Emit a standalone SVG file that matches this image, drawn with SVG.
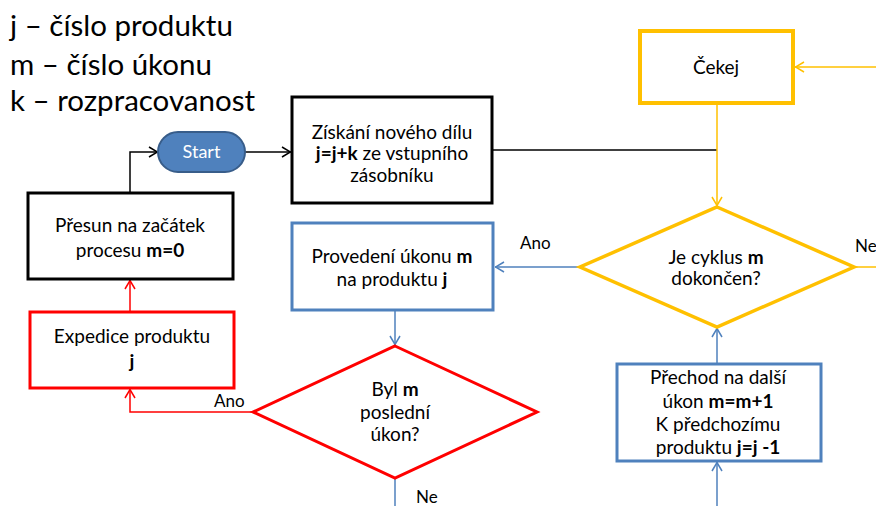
<svg xmlns="http://www.w3.org/2000/svg" width="876" height="506" viewBox="0 0 876 506">
<defs>
<style>
text{font-family:Lato,"Open Sans","Liberation Sans",sans-serif;fill:#000;}
.t{font-size:19px;text-anchor:middle;}
.lbl{font-size:17px;}
.leg{font-size:29.5px;}
.b{font-weight:bold;}
.box{fill:#fff;stroke-width:3;}
.k{stroke:#000;}
.r{stroke:#ff0000;}
.bl{stroke:#4f81bd;}
.y{stroke:#ffc000;}
.c{fill:none;stroke-width:1.5;}
</style>
<marker id="aK" viewBox="0 0 10 12" refX="10" refY="6" markerWidth="10" markerHeight="12" markerUnits="userSpaceOnUse" orient="auto"><path d="M1,1 L9.5,6 L1,11" fill="none" stroke="#000" stroke-width="1.5"/></marker>
<marker id="aR" viewBox="0 0 10 12" refX="10" refY="6" markerWidth="10" markerHeight="12" markerUnits="userSpaceOnUse" orient="auto"><path d="M1,1 L9.5,6 L1,11" fill="none" stroke="#ff0000" stroke-width="1.5"/></marker>
<marker id="aB" viewBox="0 0 10 12" refX="10" refY="6" markerWidth="10" markerHeight="12" markerUnits="userSpaceOnUse" orient="auto"><path d="M1,1 L9.5,6 L1,11" fill="none" stroke="#4f81bd" stroke-width="1.5"/></marker>
<marker id="aY" viewBox="0 0 10 12" refX="10" refY="6" markerWidth="10" markerHeight="12" markerUnits="userSpaceOnUse" orient="auto"><path d="M1,1 L9.5,6 L1,11" fill="none" stroke="#ffc000" stroke-width="1.5"/></marker>
</defs>
<rect width="876" height="506" fill="#fff"/>

<g id="legend">
<text class="leg" x="10" y="36">j – číslo produktu</text>
<text class="leg" x="10" y="75">m – číslo úkonu</text>
<text class="leg" x="10" y="111">k – rozpracovanost</text>
</g>

<g id="connectors">
<path class="c k" d="M130,193 V152 H158" marker-end="url(#aK)"/>
<path class="c k" d="M245,152 H291" marker-end="url(#aK)"/>
<path class="c k" d="M493,150 H717"/>
<path class="c y" d="M717,103 V206" marker-end="url(#aY)"/>
<path class="c y" d="M876,67 H795" marker-end="url(#aY)"/>
<path class="c y" d="M855,267 H876"/>
<path class="c bl" d="M580,267 H495" marker-end="url(#aB)"/>
<path class="c bl" d="M395,311 V345" marker-end="url(#aB)"/>
<path class="c bl" d="M395,479 V506"/>
<path class="c bl" d="M717,363 V328" marker-end="url(#aB)"/>
<path class="c bl" d="M717,506 V462" marker-end="url(#aB)"/>
<path class="c r" d="M253,412 H130 V389" marker-end="url(#aR)"/>
<path class="c r" d="M130,311 V280" marker-end="url(#aR)"/>
<text class="lbl" x="520" y="249">Ano</text>
<text class="lbl" x="855" y="252">Ne</text>
<text class="lbl" x="214" y="407">Ano</text>
<text class="lbl" x="416" y="503">Ne</text>
</g>

<g id="start">
<rect x="158" y="132" width="87" height="40" rx="20" ry="20" fill="#4f81bd" stroke="#385d8a" stroke-width="2"/>
<text x="201.5" y="158" style="fill:#fff;font-size:18px;text-anchor:middle">Start</text>
</g>

<g id="ziskani">
<rect class="box k" x="292" y="97" width="200" height="106"/>
<text class="t" x="392" y="139">Získání nového dílu</text>
<text class="t" x="392" y="160"><tspan class="b">j=j+k</tspan> ze vstupního</text>
<text class="t" x="392" y="182">zásobníku</text>
</g>

<g id="presun">
<rect class="box k" x="28" y="193" width="205" height="86"/>
<text class="t" x="130" y="232">Přesun na začátek</text>
<text class="t" x="130" y="257">procesu <tspan class="b">m=0</tspan></text>
</g>

<g id="expedice">
<rect class="box r" x="30" y="312" width="204" height="76"/>
<text class="t" x="132" y="343">Expedice produktu</text>
<text class="t b" x="132" y="368">j</text>
</g>

<g id="provedeni">
<rect class="box bl" x="292" y="223" width="201" height="87"/>
<text class="t" x="392" y="263">Provedení úkonu <tspan class="b">m</tspan></text>
<text class="t" x="392" y="286">na produktu <tspan class="b">j</tspan></text>
</g>

<g id="byl">
<polygon class="box r" points="395,346 537,412 395,478 253,412"/>
<text class="t" x="395" y="396">Byl <tspan class="b">m</tspan></text>
<text class="t" x="395" y="419">poslední</text>
<text class="t" x="395" y="441">úkon?</text>
</g>

<g id="cekej">
<rect class="box y" x="640" y="31" width="153" height="72" style="stroke-width:4"/>
<text class="t" x="716" y="74">Čekej</text>
</g>

<g id="cyklus">
<polygon class="box y" points="717,207 854,267 717,327 580,267" style="stroke-width:3.5"/>
<text class="t" x="716" y="264">Je cyklus <tspan class="b">m</tspan></text>
<text class="t" x="716" y="285">dokončen?</text>
</g>

<g id="prechod">
<rect class="box bl" x="617" y="364" width="204" height="97"/>
<text class="t" x="718" y="384">Přechod na další</text>
<text class="t" x="718" y="408">úkon <tspan class="b">m=m+1</tspan></text>
<text class="t" x="718" y="431">K předchozímu</text>
<text class="t" x="718" y="454">produktu <tspan class="b">j=j -1</tspan></text>
</g>
</svg>
